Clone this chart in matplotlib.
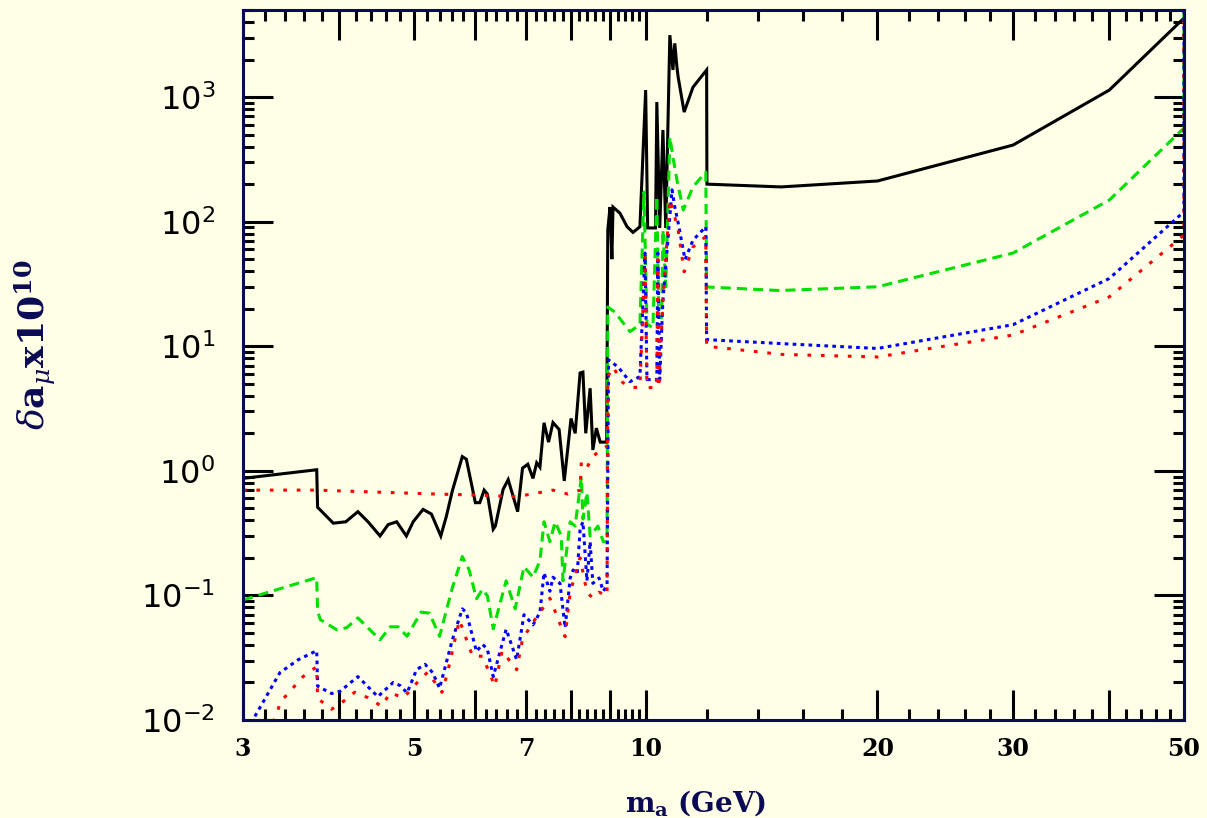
import matplotlib.pyplot as plt
from matplotlib.ticker import FixedLocator, NullFormatter, FixedFormatter

# curve data (x = m_a in GeV, y = delta a_mu x 1e10)
black_x = [3.0, 3.74, 3.75, 3.93, 4.08, 4.23, 4.36, 4.52, 4.63, 4.75, 4.89, 4.99, 5.14, 5.27,
           5.42, 5.51, 5.61, 5.78, 5.85, 6.01, 6.09, 6.17, 6.23, 6.34, 6.38, 6.53, 6.63, 6.82,
           6.92, 7.03, 7.14, 7.22, 7.29, 7.38, 7.48, 7.58, 7.72, 7.84, 8.0, 8.1, 8.22, 8.29,
           8.36, 8.47, 8.54, 8.63, 8.73, 8.90, 8.93, 8.99, 9.04, 9.07, 9.26, 9.46, 9.63, 9.83,
           10.0, 10.06, 10.30, 10.34, 10.43, 10.53, 10.62, 10.75, 10.85, 10.91, 10.98, 11.02,
           11.22, 11.52, 12.0, 12.01, 15.0, 20.0, 30.0, 40.0, 50.0]
black_y = [0.87, 1.02, 0.51, 0.38, 0.39, 0.47, 0.39, 0.30, 0.37, 0.39, 0.30, 0.39, 0.49, 0.45,
           0.30, 0.43, 0.69, 1.30, 1.24, 0.555, 0.555, 0.70, 0.65, 0.34, 0.36, 0.71, 0.85, 0.47,
           1.05, 1.13, 0.87, 1.16, 1.07, 2.43, 1.7, 2.44, 2.15, 0.83, 2.63, 2.0, 6.1, 6.2,
           2.0, 4.6, 1.47, 2.2, 1.7, 1.7, 86, 131, 50, 131, 117, 91, 82, 91,
           1138, 89, 89, 912, 89, 544, 89, 3140, 1650, 2700, 1740, 1450,
           758, 1200, 1650, 200, 190, 212, 412, 1138, 4300]

green_x = [3.0, 3.74, 3.75, 3.78, 3.97, 4.09, 4.23, 4.52, 4.66, 4.77, 4.90, 5.11, 5.24, 5.40,
           5.61, 5.78, 5.90, 6.03, 6.14, 6.23, 6.34, 6.59, 6.77, 6.95, 7.14, 7.29, 7.38, 7.51,
           7.63, 7.77, 7.81, 7.98, 8.10, 8.25, 8.29, 8.39, 8.47, 8.54, 8.67, 8.81, 8.91, 8.93,
           8.99, 9.12, 9.54, 9.83, 9.95, 10.04, 10.22, 10.34, 10.40, 10.49, 10.53, 10.62, 10.75,
           10.85, 10.98, 11.19, 11.52, 11.97, 12.0, 14.92, 20.0, 30.0, 40.0, 50.0, 50.0]
green_y = [0.092, 0.139, 0.075, 0.064, 0.053, 0.055, 0.066, 0.044, 0.056, 0.056, 0.047, 0.0735,
           0.072, 0.047, 0.115, 0.205, 0.16, 0.094, 0.112, 0.099, 0.054, 0.131, 0.078, 0.17,
           0.14, 0.19, 0.39, 0.27, 0.39, 0.30, 0.131, 0.39, 0.36, 0.89, 0.41, 0.67, 0.30, 0.32,
           0.36, 0.27, 0.27, 20.7, 20, 18.8, 13.1, 14.9, 173, 15, 14.1, 160, 17, 17, 86, 30,
           478, 330, 216, 124, 190, 250, 29.9, 28, 30, 56, 149, 564, 1e5]

blue_x = [3.0, 3.20, 3.35, 3.54, 3.74, 3.75, 3.91, 4.01, 4.23, 4.49, 4.70, 4.80, 4.90, 5.04,
          5.17, 5.29, 5.40, 5.61, 5.78, 5.85, 6.03, 6.14, 6.23, 6.34, 6.59, 6.80, 6.95, 7.14,
          7.29, 7.38, 7.51, 7.58, 7.74, 7.86, 7.98, 8.05, 8.15, 8.22, 8.29, 8.39, 8.47, 8.54,
          8.70, 8.81, 8.91, 8.95, 9.21, 9.54, 9.83, 9.98, 10.04, 10.34, 10.37, 10.43, 10.53,
          10.82, 10.91, 11.02, 11.25, 11.52, 11.97, 12.0, 15.0, 20.0, 30.0, 40.0, 50.0, 50.0]
blue_y = [0.0073, 0.0146, 0.024, 0.0305, 0.036, 0.0187, 0.0163, 0.017, 0.0223, 0.0154, 0.020,
          0.0189, 0.0165, 0.0253, 0.028, 0.024, 0.018, 0.044, 0.078, 0.073, 0.0355, 0.0405,
          0.037, 0.0223, 0.0535, 0.0305, 0.070, 0.058, 0.073, 0.152, 0.108, 0.14, 0.125, 0.055,
          0.138, 0.16, 0.15, 0.34, 0.39, 0.131, 0.27, 0.125, 0.138, 0.108, 0.12, 7.78, 6.8, 5.2,
          5.7, 56, 5.4, 5.4, 56, 5.4, 23.5, 180, 131, 98, 49.6, 71, 91, 11.3, 10.5, 9.6, 14.9,
          35, 120, 1e5]

red_x = [3.2, 3.36, 3.47, 3.59, 3.74, 3.75, 3.91, 4.05, 4.19, 4.36, 4.54, 4.66, 4.85, 5.04,
         5.21, 5.44, 5.53, 5.73, 5.96, 6.14, 6.37, 6.51, 6.80, 6.92, 7.14, 7.29, 7.51, 7.86,
         7.98, 8.22, 8.39, 8.54, 8.70, 8.91, 8.93, 9.07, 9.34, 9.63, 9.83, 9.98, 10.04, 10.34,
         10.37, 10.40, 10.53, 10.75, 10.91, 11.02, 11.22, 11.52, 11.97, 12.0, 15.0, 20.0, 30.0,
         40.0, 50.0, 50.0]
red_y = [0.006, 0.0141, 0.0176, 0.0223, 0.0268, 0.0149, 0.0122, 0.0141, 0.0167, 0.0151, 0.0129,
         0.0165, 0.0151, 0.0197, 0.0242, 0.0167, 0.024, 0.0635, 0.0325, 0.0325, 0.0187, 0.0358,
         0.0253, 0.0445, 0.0608, 0.073, 0.095, 0.0466, 0.106, 0.2, 0.106, 0.095, 0.106, 0.10,
         5.7, 6.8, 5.1, 4.66, 4.7, 52, 4.66, 4.66, 49.6, 4.66, 23.5, 150, 109, 86, 39.6, 62.6,
         76, 10, 8.6, 8.2, 12.3, 24.9, 78, 1e5]

red2_x = [3.0, 3.74, 5.40, 6.0, 6.8, 7.29, 7.58, 7.93, 8.22, 8.25, 8.38, 8.54, 8.73, 8.91]
red2_y = [0.70, 0.70, 0.65, 0.64, 0.62, 0.67, 0.70, 0.65, 0.70, 1.17, 1.05, 1.3, 1.47, 1.58]

x_major = [3, 4, 5, 6, 7, 8, 9, 10, 20, 30, 40, 50]
x_labels = ['3', '', '5', '', '7', '', '', '10', '20', '30', '', '50']
y_major = [1e-2, 1e-1, 1, 10, 100, 1000]
y_labels = [r'$10^{-2}$', r'$10^{-1}$', r'$10^{0}$', r'$10^{1}$', r'$10^{2}$', r'$10^{3}$']

bg = '#fffee6'
navy = '#0b0b55'

fig = plt.figure(figsize=(12.07, 8.18), dpi=100, facecolor=bg)
ax = fig.add_axes([0.2013, 0.1198, 0.7796, 0.868], facecolor=bg)

ax.plot(black_x, black_y, color='black', lw=2.2, solid_joinstyle='miter')
ax.plot(green_x, green_y, color='#00e000', lw=2.2, dashes=(3.3, 2.0))
ax.plot(blue_x, blue_y, color='#0000ff', lw=2.2, dashes=(1.2, 1.4))
ax.plot(red_x, red_y, color='#ff0000', lw=2.2, dashes=(1.2, 3.2))
ax.plot(red2_x, red2_y, color='#ff0000', lw=2.2, dashes=(1.2, 3.2))

ax.set_xscale('log')
ax.set_yscale('log')
ax.set_xlim(3, 50)
ax.set_ylim(1e-2, 5000)

x_minor = [x / 10 for x in range(32, 100, 2) if x % 10 != 0] + \
          [x for x in range(12, 50, 2) if x % 10 != 0]
y_minor = [m * 10.0 ** k for k in range(-2, 3) for m in range(2, 10)] + [2000, 3000, 4000, 5000]

ax.xaxis.set_major_locator(FixedLocator(x_major))
ax.xaxis.set_major_formatter(FixedFormatter(x_labels))
ax.xaxis.set_minor_locator(FixedLocator(x_minor))
ax.xaxis.set_minor_formatter(NullFormatter())
ax.yaxis.set_major_locator(FixedLocator(y_major))
ax.yaxis.set_major_formatter(FixedFormatter(y_labels))
ax.yaxis.set_minor_locator(FixedLocator(y_minor))
ax.yaxis.set_minor_formatter(NullFormatter())

ax.tick_params(which='both', direction='in', top=True, right=True, width=2.2, color='black')
ax.tick_params(which='major', length=21.5)
ax.tick_params(which='minor', length=8)
ax.tick_params(axis='x', which='major', pad=12)
ax.tick_params(axis='y', which='major', pad=20, labelsize=23)
for lab in ax.get_xticklabels():
    lab.set_fontfamily('DejaVu Serif')
    lab.set_fontweight('bold')
    lab.set_fontsize(17)

for sp in ax.spines.values():
    sp.set_color(navy)
    sp.set_linewidth(2.2)

fig.text(696 / 1207, 1 - 812 / 818, r'$\mathbf{m_a}$ (GeV)', ha='center', va='baseline',
         color=navy, fontsize=20, fontweight='bold', family='DejaVu Serif',
         math_fontfamily='dejavuserif')
fig.text(35 / 1207, 1 - 345 / 818, r'$\delta\mathbf{a}_{\mu}\mathbf{x10}^{\mathbf{10}}$',
         rotation=90, ha='center', va='center', color=navy, fontsize=26,
         math_fontfamily='dejavuserif')

fig.savefig('out.png', dpi=100, facecolor=bg)
